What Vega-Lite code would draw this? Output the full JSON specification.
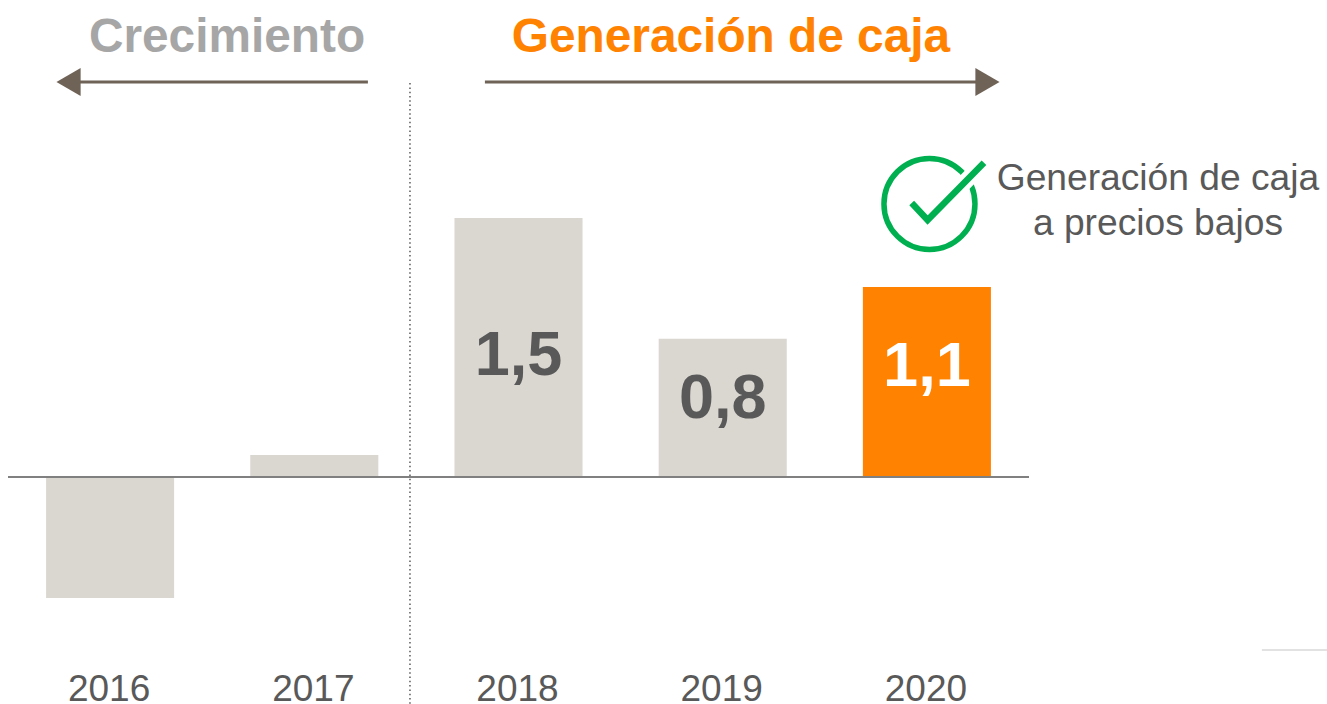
{
"$schema":"https://vega.github.io/schema/vega-lite/v6.json",
"width":1327,"height":704,"padding":0,"autosize":{"type":"none"},"background":"white",
"config":{"view":{"stroke":null},"font":"Liberation Sans"},
"datasets":{
"bars":[{"year":"2016","value":-0.7},{"year":"2017","value":0.127},{"year":"2018","value":1.5},{"year":"2019","value":0.8},{"year":"2020","value":1.1}],
"barLabels":[{"year":"2018","label":"1,5","pos":0.591},{"year":"2019","label":"0,8","pos":0.342},{"year":"2020","label":"1,1","pos":0.527}],
"titles":[{"px":2016.573,"py":2.461,"label":"Crecimiento"},{"px":2019.041,"py":2.461,"label":"Generación de caja"}],
"side":[{"px":2021.132,"py":1.662,"label":"Generación de caja"},{"px":2021.132,"py":1.401,"label":"a precios bajos"}],
"arrows":[{"px":2015.804,"px2":2017.263,"py":2.287},{"px":2017.836,"px2":2020.29,"py":2.287}],
"check":[{"px":2019.926,"py":1.587,"o":1},{"px":2020.004,"py":1.488,"o":2},{"px":2020.28,"py":1.82,"o":3}]
},
"resolve":{"scale":{"x":"independent"},"axis":{"x":"independent"}},
"layer":[
{"encoding":{"x":{"field":"year","type":"ordinal","scale":{"type":"band","paddingInner":0.373,"paddingOuter":0.1865,"range":[8,1029],"domain":["2016","2017","2018","2019","2020"]},
   "axis":{"title":null,"orient":"bottom","domain":false,"ticks":false,"labelAngle":0,"labelFontSize":37,"labelColor":"#595959","labelPadding":4,"labelOffset":-1,"offset":-37,"labelFont":"Liberation Sans"}}},
 "layer":[
 {"data":{"name":"bars"},"mark":{"type":"bar"},
  "encoding":{
   "y":{"field":"value","type":"quantitative","scale":{"domain":[-1.314,2.762]},"axis":null},
   "color":{"condition":{"test":"datum.year==='2020'","value":"#ff8200"},"value":"#dad6d0"}}},
 {"data":{"name":"barLabels"},"mark":{"type":"text","fontSize":63,"fontWeight":"bold","baseline":"alphabetic","align":"center"},
  "encoding":{
   "y":{"field":"pos","type":"quantitative","scale":{"domain":[-1.314,2.762]},"axis":null},
   "text":{"field":"label"},
   "color":{"condition":{"test":"datum.year==='2020'","value":"#ffffff"},"value":"#595959"}}}
]},
{"encoding":{"x":{"field":"px","type":"quantitative","scale":{"domain":[2015.4613,2021.9598],"nice":false,"zero":false},"axis":null},
             "y":{"field":"py","type":"quantitative","scale":{"domain":[-1.314,2.762]},"axis":null}},
 "layer":[
 {"data":{"values":[{"px":2015.5005,"px2":2020.5005,"py":0}]},"mark":{"type":"rule","color":"#808080","strokeWidth":2},"encoding":{"x2":{"field":"px2"}}},
 {"data":{"values":[{"px":2017.469,"py":2.281,"py2":-1.314}]},"mark":{"type":"rule","color":"#595959","strokeWidth":1.5,"strokeDash":[1.5,2.8]},"encoding":{"y2":{"field":"py2"}}},
 {"data":{"values":[{"px":2021.641,"px2":2021.96,"py":-1.002}]},"mark":{"type":"rule","color":"#d9d9d9","strokeWidth":1.5},"encoding":{"x2":{"field":"px2"}}},
 {"data":{"name":"arrows"},"mark":{"type":"rule","color":"#6f6257","strokeWidth":3},"encoding":{"x2":{"field":"px2"}}},
 {"data":{"values":[{"px":2015.797,"py":2.287}]},"mark":{"type":"point","shape":"triangle-left","filled":true,"size":780,"color":"#6f6257","opacity":1}},
 {"data":{"values":[{"px":2020.297,"py":2.287}]},"mark":{"type":"point","shape":"triangle-right","filled":true,"size":780,"color":"#6f6257","opacity":1}},
 {"data":{"values":[{"px":2020.013,"py":1.581}]},"mark":{"type":"point","shape":"circle","filled":false,"size":8281,"color":"#00b050","strokeWidth":5.5,"opacity":1}},
 {"data":{"name":"check"},"mark":{"type":"line","color":"#ffffff","strokeWidth":16,"strokeCap":"butt"},"encoding":{"order":{"field":"o"}}},
 {"data":{"name":"check"},"mark":{"type":"line","color":"#00b050","strokeWidth":6.5,"strokeCap":"butt","strokeJoin":"miter"},"encoding":{"order":{"field":"o"}}},
 {"data":{"name":"titles"},"mark":{"type":"text","fontSize":47.8,"fontWeight":"bold","baseline":"alphabetic","align":"center"},
  "encoding":{"text":{"field":"label"},"color":{"condition":{"test":"datum.label==='Crecimiento'","value":"#a6a6a6"},"value":"#ff8200"}}},
 {"data":{"name":"side"},"mark":{"type":"text","fontSize":37.2,"color":"#595959","baseline":"alphabetic","align":"center"},"encoding":{"text":{"field":"label"}}}
]}
]
}
